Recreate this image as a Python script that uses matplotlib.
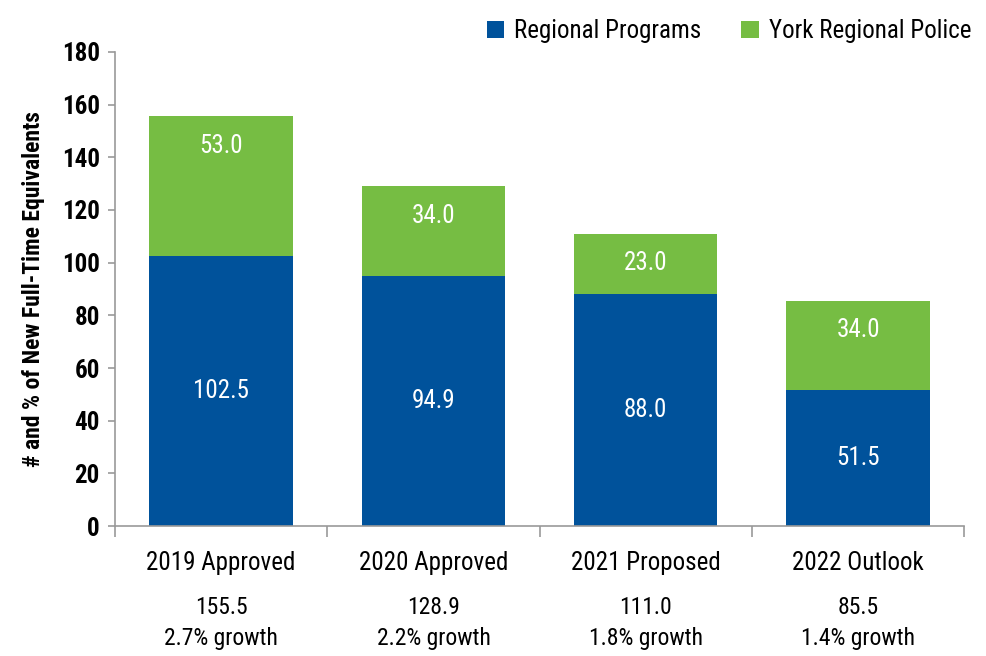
import matplotlib
matplotlib.use("Agg")
import matplotlib.pyplot as plt
from matplotlib import font_manager
import matplotlib.transforms as mtransforms

categories = ["2019 Approved", "2020 Approved", "2021 Proposed", "2022 Outlook"]
regional = [102.5, 94.9, 88.0, 51.5]
police = [53.0, 34.0, 23.0, 34.0]
totals = ["155.5", "128.9", "111.0", "85.5"]
growth = ["2.7% growth", "2.2% growth", "1.8% growth", "1.4% growth"]
yticks = [0, 20, 40, 60, 80, 100, 120, 140, 160, 180]

avail = {f.name for f in font_manager.fontManager.ttflist}
fam = [f for f in ["Liberation Sans Narrow", "Roboto Condensed", "Open Sans Condensed", "Liberation Sans", "DejaVu Sans"] if f in avail]
plt.rcParams['font.family'] = fam

blue = "#00529B"
green = "#76BD43"

fig = plt.figure(figsize=(9.87, 6.56), dpi=100)
ax = fig.add_axes([0.1165, 0.198, 0.8605, 0.723])

x = list(range(len(categories)))
w = 0.675
ax.bar(x, regional, w, color=blue, label="Regional Programs", zorder=2)
ax.bar(x, police, w, bottom=regional, color=green, label="York Regional Police", zorder=2)

for i in x:
    ax.text(i, regional[i] / 2, f"{regional[i]:.1f}", ha="center", va="center",
            color="white", fontsize=18)
    ax.annotate(f"{police[i]:.1f}", xy=(i, regional[i] + police[i]), xytext=(0, -21),
                textcoords="offset points", ha="center", va="center",
                color="white", fontsize=18)

ax.set_xlim(-0.5, len(categories) - 0.5)
ax.set_ylim(0, 180)
ax.set_yticks(yticks)
ax.set_yticklabels([str(t) for t in yticks], fontsize=18, fontweight="bold")
ax.set_xticks([i - 0.5 for i in range(len(categories) + 1)])
ax.set_xticklabels([])
ax.tick_params(axis="x", length=8, color="#999999", width=1.2, direction="out")
ax.tick_params(axis="y", length=5, color="#999999", width=1.2, direction="out", pad=6)

for s in ["top", "right"]:
    ax.spines[s].set_visible(False)
for s in ["left", "bottom"]:
    ax.spines[s].set_color("#999999")
    ax.spines[s].set_linewidth(1.2)

trans = mtransforms.blended_transform_factory(ax.transData, fig.transFigure)
for i in x:
    ax.text(i, 1 - 563 / 656, categories[i], transform=trans, ha="center", va="center", fontsize=18)
    ax.text(i, 1 - 608 / 656, totals[i], transform=trans, ha="center", va="center", fontsize=17)
    ax.text(i, 1 - 638 / 656, growth[i], transform=trans, ha="center", va="center", fontsize=17)

ax.set_ylabel("# and % of New Full-Time Equivalents", fontsize=17, fontweight="bold", labelpad=12)

leg = fig.legend(loc="upper right", bbox_to_anchor=(1.007, 1.005), ncol=2, frameon=False,
                 fontsize=18, handlelength=0.7, handleheight=0.7, handletextpad=0.4,
                 columnspacing=1.6)

fig.savefig("out.png", dpi=100)
